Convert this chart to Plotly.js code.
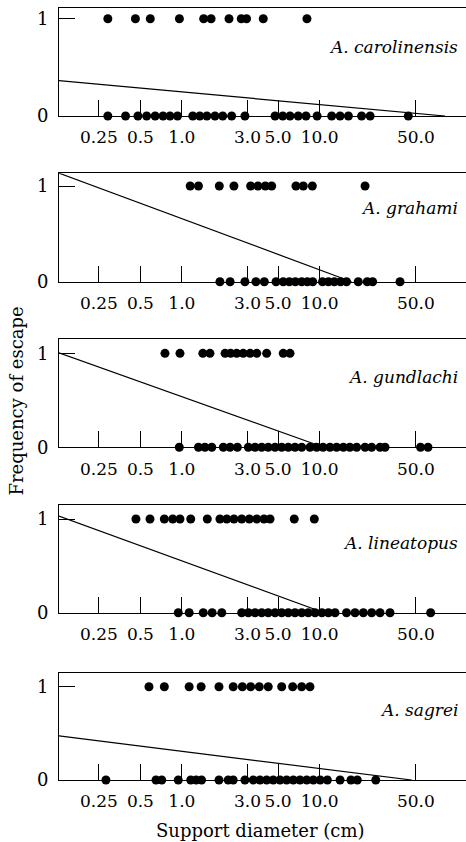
<!DOCTYPE html>
<html>
<head>
<meta charset="utf-8">
<script src="https://cdn.plot.ly/plotly-3.0.1.min.js"></script>
<style>html,body{margin:0;padding:0;background:#fff;overflow:hidden}#chart{width:466px;height:842px}</style>
</head>
<body>
<div id="chart"></div>
<script>
// Tick labels of the support-diameter axis
const tickVals = [0.25, 0.5, 1, 3, 5, 10, 50];
const tickText = ['0.25', '0.5', '1.0', '3.0', '5.0', '10.0', '50.0'];
const species = ['A. carolinensis', 'A. grahami', 'A. gundlachi', 'A. lineatopus', 'A. sagrei'];

// Support diameters (cm) of lizards that escaped (frequency 1) and did not (frequency 0)
const carolinensisEscaped = [0.29, 0.46, 0.59, 0.96, 1.44, 1.63, 2.2, 2.7, 2.95, 3.9, 8.1];
const carolinensisStayed = [0.29, 0.39, 0.48, 0.555, 0.64, 0.73, 0.82, 0.93, 1.2, 1.35, 1.52, 1.74, 1.98, 2.3, 2.87, 4.75, 5.4, 6.1, 7.0, 7.97, 9.6, 12.25, 14.1, 16.2, 20.2, 23.3, 44.1];
const carolinensisFitX = [0.128, 81.5];
const carolinensisFitY = [0.363, 0];

const grahamiEscaped = [1.15, 1.32, 1.87, 2.39, 3.16, 3.57, 4.04, 4.49, 6.74, 7.62, 8.86, 21.4];
const grahamiStayed = [1.89, 2.24, 2.87, 3.45, 3.97, 4.83, 5.45, 6.03, 6.67, 7.42, 8.15, 8.92, 10.5, 11.6, 12.8, 14.2, 15.7, 19.1, 22.2, 24.3, 38.4];
const grahamiFitX = [0.128, 17.1];
const grahamiFitY = [1.135, 0];

const gundlachiEscaped = [0.754, 0.969, 1.42, 1.6, 2.06, 2.26, 2.5, 2.79, 3.13, 3.5, 4.13, 5.45, 6.1];
const gundlachiStayed = [0.958, 1.32, 1.47, 1.65, 2.0, 2.24, 2.53, 3.04, 3.4, 3.8, 4.24, 4.75, 5.31, 5.93, 6.63, 7.42, 8.52, 9.53, 10.6, 11.9, 13.3, 14.9, 16.6, 18.6, 21.4, 23.9, 27.5, 29.9, 54.1, 61.3];
const gundlachiFitX = [0.128, 10.7];
const gundlachiFitY = [1.006, 0];

const lineatopusEscaped = [0.464, 0.587, 0.746, 0.858, 0.969, 1.16, 1.53, 1.89, 2.12, 2.39, 2.72, 3.09, 3.5, 3.95, 4.37, 6.55, 9.16];
const lineatopusStayed = [0.942, 1.13, 1.43, 1.66, 1.95, 2.72, 3.04, 3.4, 3.8, 4.24, 4.75, 5.31, 5.93, 6.63, 7.42, 8.28, 9.27, 10.4, 11.6, 12.95, 15.7, 18.1, 20.8, 23.9, 27.5, 32.5, 64.1];
const lineatopusFitX = [0.128, 10.8];
const lineatopusFitY = [1.032, 0];

const sagreiEscaped = [0.577, 0.746, 1.13, 1.38, 1.86, 2.36, 2.75, 3.16, 3.65, 4.24, 5.31, 6.38, 7.42, 8.52];
const sagreiStayed = [0.281, 0.649, 0.714, 0.942, 1.16, 1.27, 1.39, 1.86, 2.17, 2.36, 2.87, 3.3, 3.69, 4.13, 4.61, 5.16, 5.77, 6.45, 7.21, 8.07, 9.01, 10.1, 11.4, 14.1, 16.9, 18.8, 25.6];
const sagreiFitX = [0.128, 46.7];
const sagreiFitY = [0.472, 0];

const panels = [
  {esc: carolinensisEscaped, stay: carolinensisStayed, fx: carolinensisFitX, fy: carolinensisFitY},
  {esc: grahamiEscaped, stay: grahamiStayed, fx: grahamiFitX, fy: grahamiFitY},
  {esc: gundlachiEscaped, stay: gundlachiStayed, fx: gundlachiFitX, fy: gundlachiFitY},
  {esc: lineatopusEscaped, stay: lineatopusStayed, fx: lineatopusFitX, fy: lineatopusFitY},
  {esc: sagreiEscaped, stay: sagreiStayed, fx: sagreiFitX, fy: sagreiFitY}
];

// layout geometry (pixels from top of page)
const W = 466, H = 842, L = 59;
const panelTop = [8, 173.3, 339.3, 504.7, 672.7];
const panelBottom = [116, 281.7, 447.3, 612.7, 780];
const yTop = [1.11, 1.133, 1.149, 1.153, 1.15];
const labelY = [0.709, 0.775, 0.743, 0.744, 0.753];

const FONT = 'DejaVu Serif';
const data = [];
const layout = {
  width: W, height: H,
  margin: {l: L, r: 0, t: 0, b: 0},
  paper_bgcolor: '#fff', plot_bgcolor: '#fff',
  showlegend: false,
  font: {family: FONT, size: 18, color: '#000'},
  annotations: []
};

panels.forEach((p, i) => {
  const xa = i === 0 ? 'x' : 'x' + (i + 1);
  const ya = i === 0 ? 'y' : 'y' + (i + 1);
  const mk = {color: '#000', size: 9, line: {width: 0}};
  data.push({x: p.fx, y: p.fy, xaxis: xa, yaxis: ya, mode: 'lines', line: {color: '#000', width: 1.2}, hoverinfo: 'skip'});
  data.push({x: p.esc, y: p.esc.map(() => 1), xaxis: xa, yaxis: ya, mode: 'markers', marker: mk, cliponaxis: false});
  data.push({x: p.stay, y: p.stay.map(() => 0), xaxis: xa, yaxis: ya, mode: 'markers', marker: mk, cliponaxis: false});

  const xKey = i === 0 ? 'xaxis' : 'xaxis' + (i + 1);
  const yKey = i === 0 ? 'yaxis' : 'yaxis' + (i + 1);
  layout[xKey] = {
    type: 'log', range: [-0.8922, 2.0635], domain: [0, 1], anchor: ya,
    tickmode: 'array', tickvals: tickVals, ticktext: tickText, tickangle: 0,
    ticks: 'inside', ticklen: 16, tickwidth: 1, tickcolor: '#000',
    showline: true, linecolor: '#000', linewidth: 1, mirror: true,
    showgrid: false, zeroline: false, ticklabelstandoff: 6,
    tickfont: {family: FONT, size: 17, color: '#000'}
  };
  layout[yKey] = {
    range: [0, yTop[i]], domain: [1 - panelBottom[i] / H, 1 - panelTop[i] / H], anchor: xa,
    tickmode: 'array', tickvals: [0, 1], ticktext: ['0', '1'],
    ticks: 'inside', ticklen: 16, tickwidth: 1, tickcolor: '#000',
    showline: true, linecolor: '#000', linewidth: 1, mirror: false,
    showgrid: false, zeroline: false, ticklabelstandoff: 6,
    tickfont: {family: FONT, size: 18, color: '#000'}
  };
  layout.annotations.push({
    text: '<i>' + species[i] + '</i>', xref: 'paper', yref: ya,
    x: (459.5 - L) / (W - L), y: labelY[i], xanchor: 'right', yanchor: 'middle',
    showarrow: false, font: {family: FONT, size: 17, color: '#000'}
  });
});

layout.annotations.push({
  text: 'Support diameter (cm)', xref: 'paper', yref: 'paper',
  x: (260 - L) / (W - L), y: 1 - 830 / H, xanchor: 'center', yanchor: 'middle',
  showarrow: false, font: {family: FONT, size: 18, color: '#000'}
});
layout.annotations.push({
  text: 'Frequency of escape', xref: 'paper', yref: 'paper',
  x: (16 - L) / (W - L), y: 1 - 401.5 / H, xanchor: 'center', yanchor: 'middle',
  textangle: -90, showarrow: false, font: {family: FONT, size: 18, color: '#000'}
});

Plotly.newPlot('chart', data, layout, {displayModeBar: false, staticPlot: true});
</script>
</body>
</html>
